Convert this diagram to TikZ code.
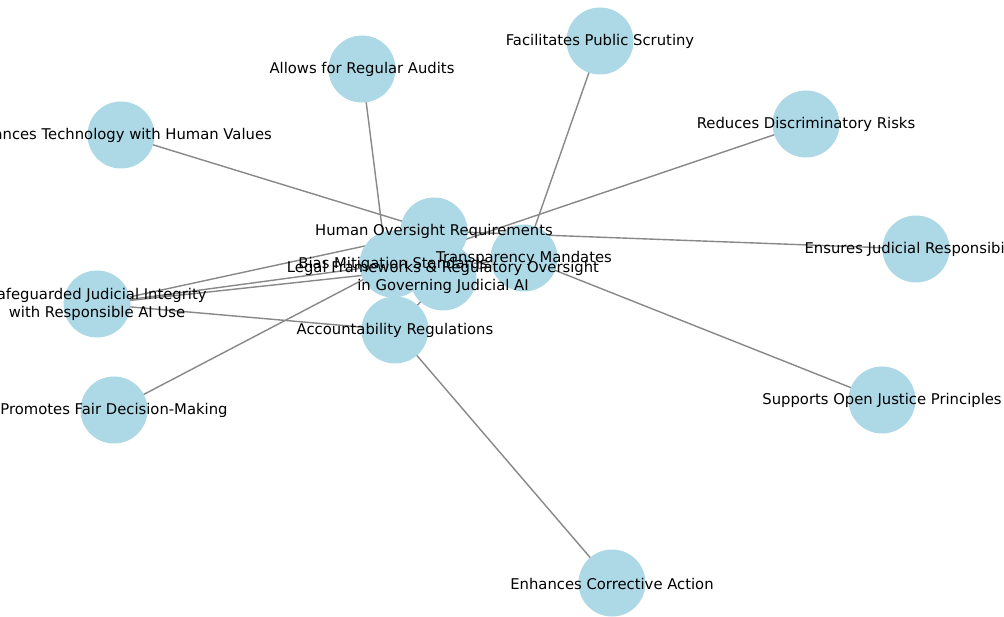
\documentclass[tikz,border=0pt]{standalone}
\usepackage{fontspec}
\setmainfont{DejaVu Sans}
\definecolor{nodeblue}{HTML}{ADD8E6}
\definecolor{edgegray}{HTML}{888888}
\begin{document}
\begin{tikzpicture}[x=1pt,y=-1pt,
  ball/.style={circle,fill=nodeblue,minimum size=67pt,inner sep=0pt},
  lbl/.style={font=\fontsize{14.8}{17.5}\selectfont,text=black,align=center,inner sep=0pt,yshift=-0.5pt},
  edge/.style={draw=edgegray,line width=1.4pt}]
\useasboundingbox[fill=white] (0,0) rectangle (1004,617);
% positions
\coordinate (c) at (443,277);
\coordinate (ho) at (434,231);
\coordinate (bm) at (393,264);
\coordinate (tm) at (524,258);
\coordinate (ar) at (395,330);
\coordinate (sj) at (97,304);
\coordinate (au) at (362,69);
\coordinate (ps) at (600,41);
\coordinate (bt) at (121,135);
\coordinate (rd) at (806,124);
\coordinate (ej) at (916,249);
\coordinate (oj) at (882,400);
\coordinate (fd) at (114,410);
\coordinate (ca) at (612,583);
% edges
\foreach \a/\b in {c/ho,c/bm,c/tm,c/ar,
  ho/bt,ho/ej,bm/rd,bm/fd,tm/ps,tm/oj,ar/au,ar/ca,
  sj/ho,sj/bm,sj/tm,sj/ar}
  \draw[edge] (\a) -- (\b);
% nodes
\foreach \p in {au,ps,bt,rd,ej,oj,fd,ca,sj,ar,ho,bm,c,tm}
  \node[ball] (n\p) at (\p) {};
% labels
\node[lbl] (lau) at (au) {Allows for Regular Audits};
\node[lbl] (lps) at (ps) {Facilitates Public Scrutiny};
\node[lbl] (lbt) at (bt) {Balances Technology with Human Values};
\node[lbl] (lrd) at (rd) {Reduces Discriminatory Risks};
\node[lbl] (lho) at (ho) {Human Oversight Requirements};
\node[lbl] (lej) at (ej) {Ensures Judicial Responsibility};
\node[lbl] (ltm) at (tm) {Transparency Mandates};
\node[lbl] (lbm) at (bm) {Bias Mitigation Standards};
\node[lbl] (lc) at (c) {Legal Frameworks \& Regulatory Oversight\\in Governing Judicial AI};
\node[lbl] (lsj) at (sj) {Safeguarded Judicial Integrity\\with Responsible AI Use};
\node[lbl] (lar) at (ar) {Accountability Regulations};
\node[lbl] (lfd) at (fd) {Promotes Fair Decision-Making};
\node[lbl] (loj) at (oj) {Supports Open Justice Principles};
\node[lbl] (lca) at (ca) {Enhances Corrective Action};
\end{tikzpicture}
\end{document}
